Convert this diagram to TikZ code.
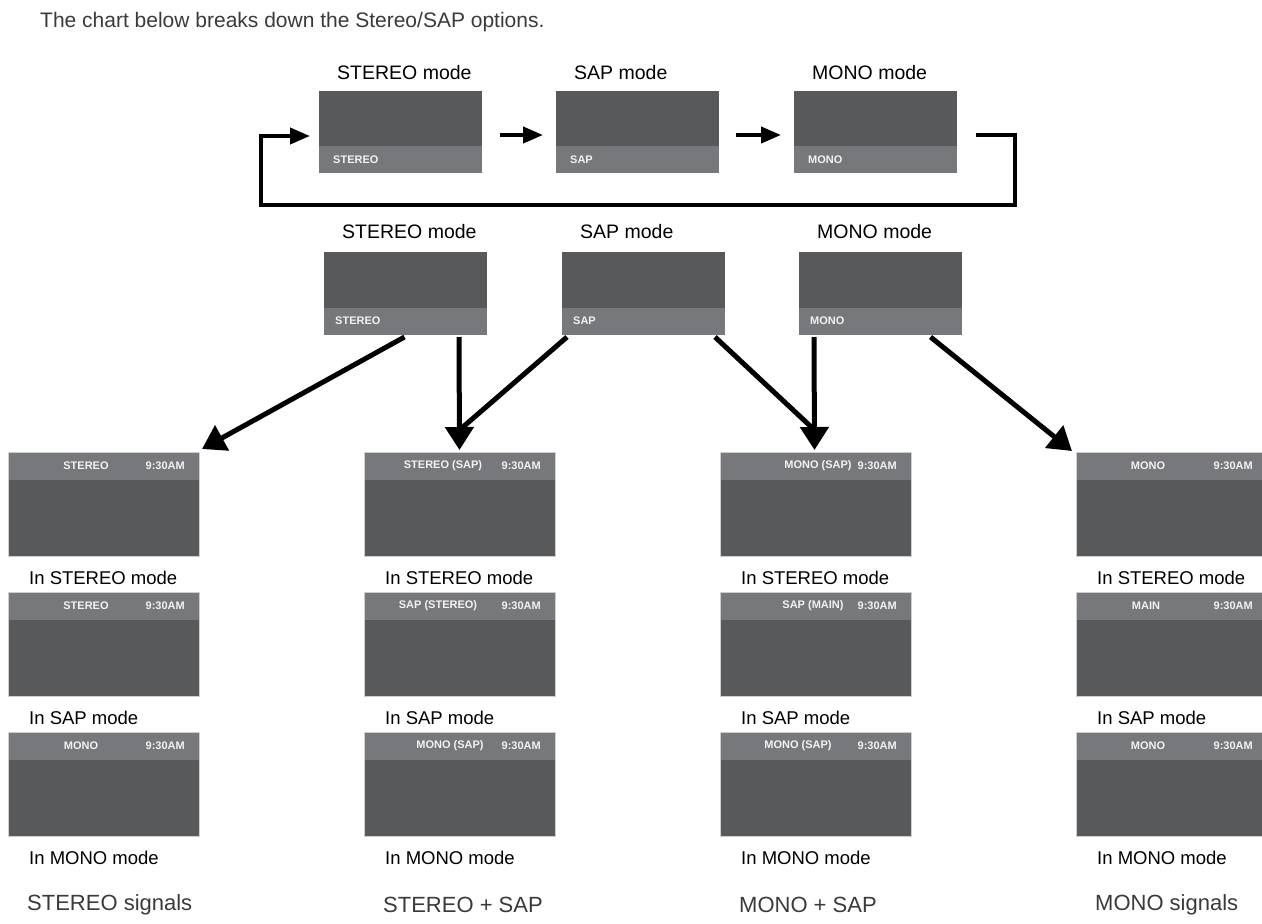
\documentclass[tikz,border=0pt]{standalone}
\usepackage{fontspec}
\setmainfont{Liberation Sans}
\usetikzlibrary{arrows.meta,calc,positioning}
\definecolor{scrdark}{HTML}{58595B}
\definecolor{scrbar}{HTML}{77787B}
\definecolor{scredge}{HTML}{CFCFD0}
\definecolor{bartext}{HTML}{F2F2F2}
\definecolor{captext}{HTML}{3A3A3A}

\begin{document}
\begin{tikzpicture}[x=1pt,y=-1pt, line join=miter,
	modescr/.style={anchor=north west, fill=scrdark, minimum width=163pt, minimum height=82pt, inner sep=0pt, outer sep=0pt,
		path picture={\fill[scrbar] (path picture bounding box.south west) rectangle ([yshift=27pt]path picture bounding box.south east);}},
	tvscr/.style={anchor=north west, fill=scrdark, draw=scredge, line width=0.8pt, minimum width=191pt, minimum height=104pt, inner sep=0pt, outer sep=0pt,
		path picture={\fill[scrbar] (path picture bounding box.north west) rectangle ([yshift=-28pt]path picture bounding box.north east);}},
	bartxt/.style={font=\fontsize{11}{13}\selectfont\bfseries, text=bartext, inner sep=0pt},
	modelab/.style={font=\fontsize{19.5}{22}\selectfont, anchor=west, inner sep=0pt},
	inlab/.style={font=\fontsize{18.5}{21}\selectfont, anchor=west, inner sep=0pt},
	siglab/.style={font=\fontsize{22}{25}\selectfont, text=captext, anchor=west, inner sep=0pt},
	flow/.style={line width=4pt, -{Triangle[length=20pt,width=16pt]}},
	bigflow/.style={line width=5pt, -{Triangle[length=23pt,width=28pt]}},
	joinflow/.style={line width=5pt}]
	\useasboundingbox (0,0) rectangle (1262,924);
	\node[font=\fontsize{21}{24}\selectfont, text=captext, anchor=west, inner sep=0pt] (title) at (40,22) {The chart below breaks down the Stereo/SAP options.};
	% top row: mode cycle
	\foreach \n/\xx/\md in {1/319/STEREO,2/556/SAP,3/794/MONO}{
		\node[modescr] (t\n) at (\xx,91) {};
		\node[modelab] (t\n-cap) at ($(t\n.north west)+(18,-18)$) {\md\ mode};
		\node[bartxt, anchor=west] (t\n-bar) at ($(t\n.south west)+(14,-13)$) {\md};
	}
	\draw[flow] ($(t1.east)+(18,3)$) -- ($(t2.west)+(-13,3)$);
	\draw[flow] ($(t2.east)+(17,3)$) -- ($(t3.west)+(-13,3)$);
	\coordinate (loopR) at (1015,205);
	\coordinate (loopL) at (261,205);
	\draw[flow] ($(t3.east)+(19,3)$) -| (loopR) -- (loopL) |- ($(t1.west)+(-9,4)$);
	% middle row
	\foreach \n/\xx/\md in {1/324/STEREO,2/562/SAP,3/799/MONO}{
		\node[modescr, minimum height=83pt] (m\n) at (\xx,252) {};
		\node[modelab] (m\n-cap) at ($(m\n.north west)+(18,-20)$) {\md\ mode};
		\node[bartxt, anchor=west] (m\n-bar) at ($(m\n.south west)+(11,-14)$) {\md};
	}
	% screens for each signal
	\foreach \col/\xx in {1/8,2/364,3/720,4/1076}{
		\foreach \row/\yy/\md in {1/452/STEREO,2/592/SAP,3/732/MONO}{
			\node[tvscr] (c\col\row) at (\xx,\yy) {};
			\node[bartxt, anchor=east] (c\col\row-tm) at ($(c\col\row.north east)+(-14,14)$) {9:30AM};
			\node[inlab] (c\col\row-cap) at ($(c\col\row.south west)+(21,22)$) {In \md\ mode};
		}
	}
	\foreach \col/\row/\st/\off in {1/1/STEREO/78, 1/2/STEREO/78, 1/3/MONO/73,
		2/1/STEREO (SAP)/79, 2/2/SAP (STEREO)/74, 2/3/MONO (SAP)/86,
		3/1/MONO (SAP)/98, 3/2/SAP (MAIN)/93, 3/3/MONO (SAP)/78,
		4/1/MONO/72, 4/2/MAIN/70, 4/3/MONO/72}
		\node[bartxt] (c\col\row-st) at ($(c\col\row.north west)+(\off,14)$) {\st};
	\node[siglab] (sig1) at ($(c13.south west)+(19,69)$) {STEREO signals};
	\node[siglab] (sig2) at ($(c23.south west)+(19,69)$) {STEREO + SAP};
	\node[siglab] (sig3) at ($(c33.south west)+(19,69)$) {MONO + SAP};
	\node[siglab] (sig4) at ($(c43.south west)+(19,69)$) {MONO signals};
	% arrows down
	\draw[bigflow] ($(m1.south)+(-1,2)$) -- ($(c11.north east)+(3,-3)$);
	\draw[bigflow] ($(m1.south east)+(-28,2)$) -- ($(c21.north)+(0,-2)$);
	\draw[joinflow] ($(m2.south west)+(5,2)$) -- ($(c21.north)+(0,-22)$);
	\draw[joinflow] ($(m2.south east)+(-10,2)$) -- ($(c31.north)+(-1,-22)$);
	\draw[bigflow] ($(m3.south west)+(15,2)$) -- ($(c31.north)+(-1,-2)$);
	\draw[bigflow] ($(m3.south)+(50,2)$) -- ($(c41.north west)+(-4,-1)$);
\end{tikzpicture}
\end{document}
